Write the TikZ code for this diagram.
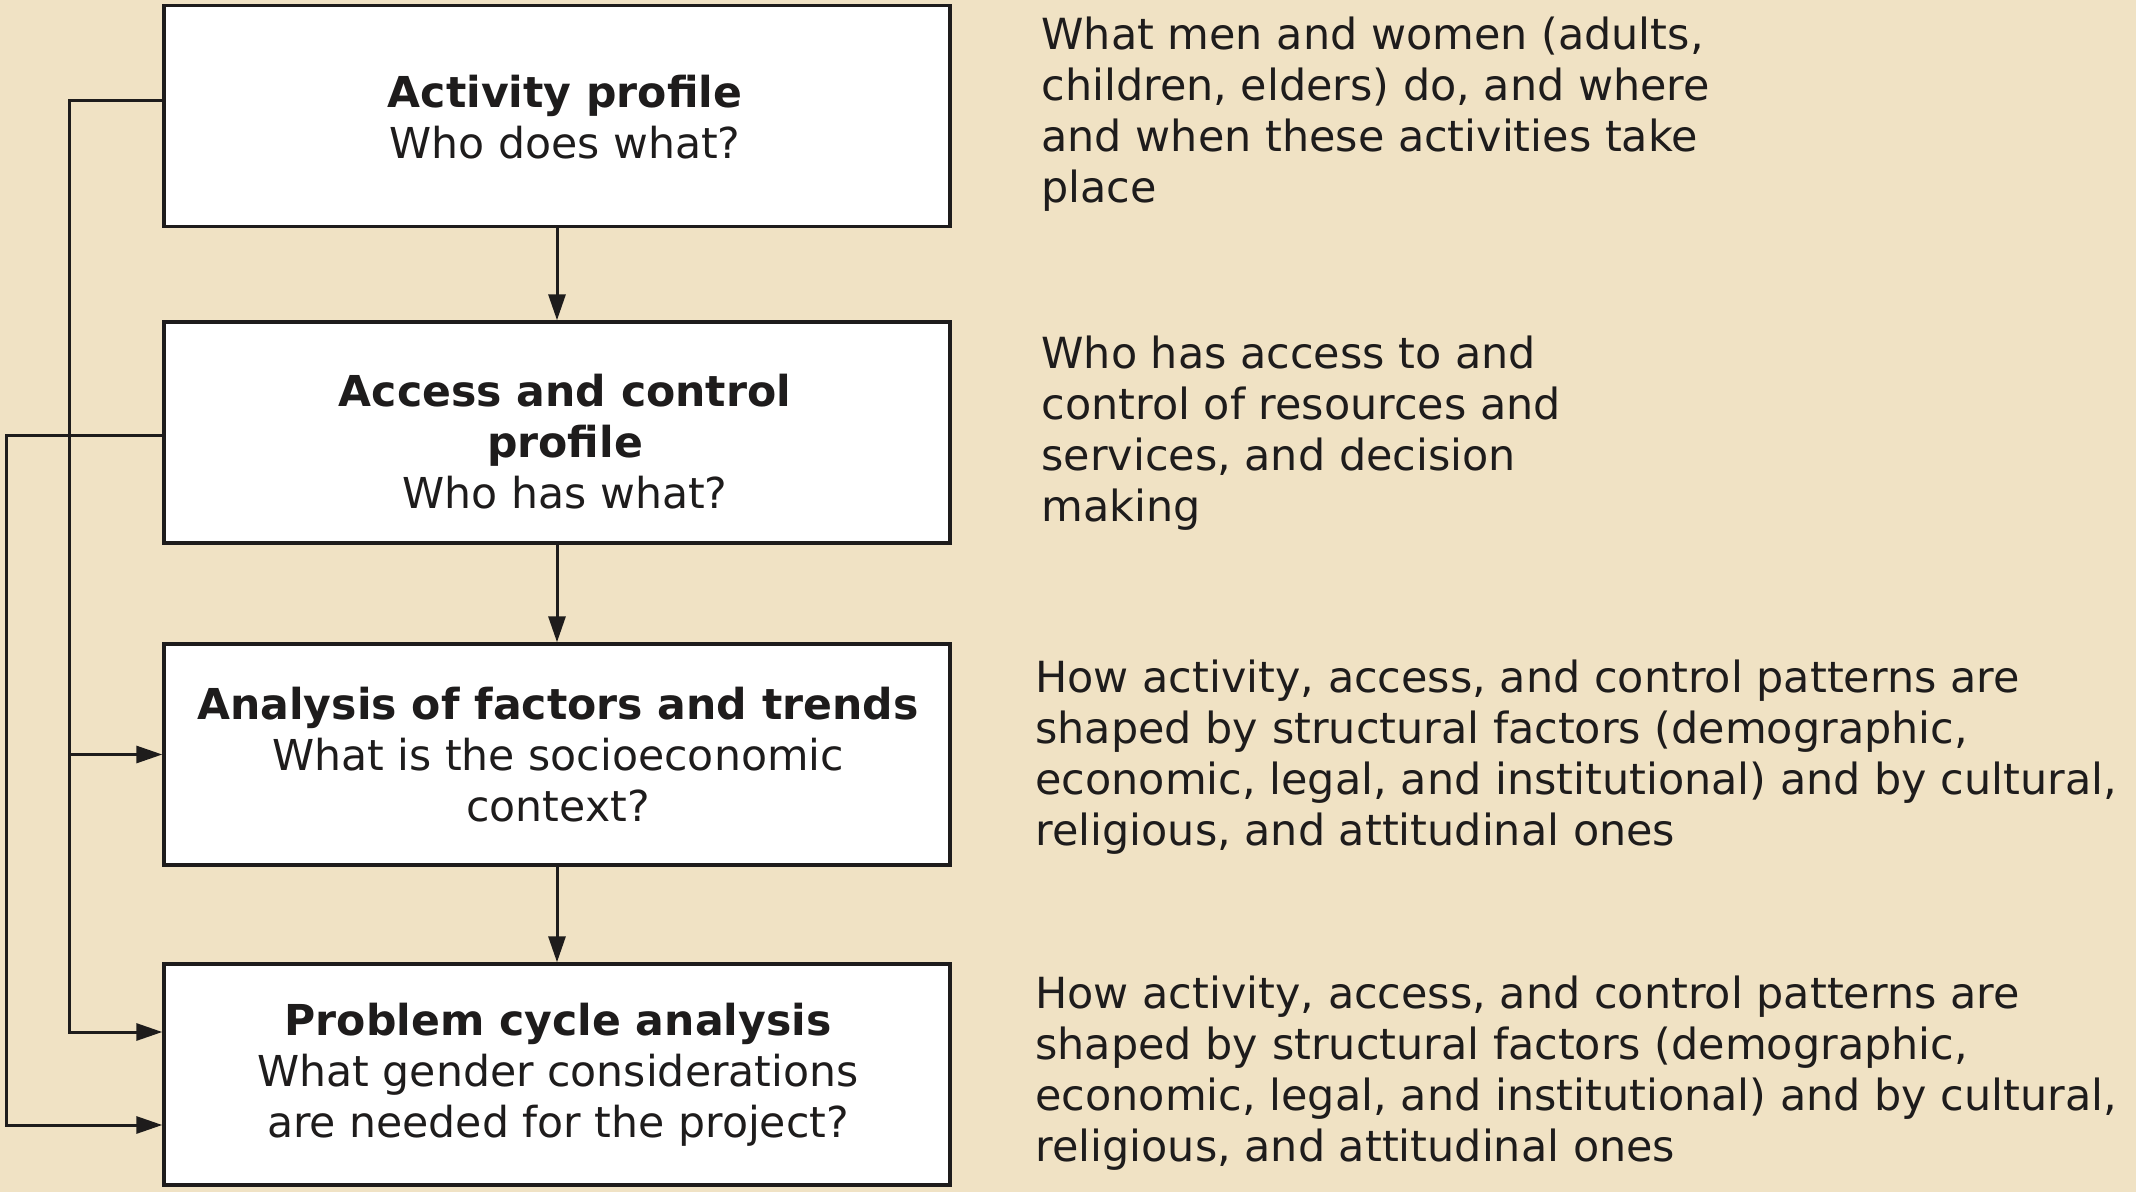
\documentclass[tikz,border=0pt]{standalone}
\usepackage{fontspec}
\setmainfont{DejaVu Sans}
\usetikzlibrary{arrows.meta}
\definecolor{bgtan}{RGB}{240,226,196}
\definecolor{ink}{RGB}{30,28,28}
\begin{document}
\begin{tikzpicture}[x=0.5pt,y=-0.5pt,
  box/.style={draw=ink, fill=white, line width=1.7pt, minimum width=393pt,
    minimum height=110.5pt, inner sep=0pt},
  boxtext/.style={inner sep=0pt, align=center, text=ink,
    font=\fontsize{21.3}{25.6}\selectfont},
  note/.style={anchor=west, align=left, inner sep=0pt, text=ink,
    font=\fontsize{21.45}{25.6}\selectfont},
  conn/.style={draw=ink, line width=1.5pt},
  tip/.style={-{Triangle[length=13pt,width=8.5pt]}}]
\fill[bgtan] (0,0) rectangle (2136,1192);
\useasboundingbox (0,0) rectangle (2136,1192);

\node[box] (b1) at (557,116) {};
\node[box] (b2) at (557,432.5) {};
\node[box] (b3) at (557,754.5) {};
\node[box] (b4) at (557,1074.5) {};

\node[boxtext] (b1t) at ([xshift=4pt,yshift=-0.5pt]b1.center) {\textbf{Activity profile}\\Who does what?};
\node[boxtext] (b2t) at ([xshift=4pt,yshift=-4.5pt]b2.center) {\textbf{Access and control}\\\textbf{profile}\\Who has what?};
\node[boxtext] (b3t) at ([xshift=0.5pt]b3.center) {\textbf{Analysis of factors and trends}\\What is the socioeconomic\\context?};
\node[boxtext] (b4t) at ([xshift=0.5pt]b4.center) {\textbf{Problem cycle analysis}\\What gender considerations\\are needed for the project?};

\node[note] (t1) at (1041,114) {What men and women (adults,\\children, elders) do, and where\\and when these activities take\\place};
\node[note] (t2) at (1041,433) {Who has access to and\\control of resources and\\services, and decision\\making};
\node[note] (t3) at (1035,757) {How activity, access, and control patterns are\\shaped by structural factors (demographic,\\economic, legal, and institutional) and by cultural,\\religious, and attitudinal ones};
\node[note] (t4) at (1035,1073) {How activity, access, and control patterns are\\shaped by structural factors (demographic,\\economic, legal, and institutional) and by cultural,\\religious, and attitudinal ones};

\draw[conn,tip] (b1) -- (b2);
\draw[conn,tip] (b2) -- (b3);
\draw[conn,tip] (b3) -- (b4);

\coordinate (L1) at (69,0);
\coordinate (L2) at (6,0);
\coordinate (p1) at ([yshift=7.5pt]b1.west);
\coordinate (p2) at ([yshift=-1.75pt]b2.west);
\coordinate (p4a) at ([yshift=21.25pt]b4.west);
\coordinate (p4b) at ([yshift=-25.25pt]b4.west);

\draw[conn,tip] (p1) -| (L1 |- p4a) -- (p4a);
\draw[conn,tip] (L1 |- b3.west) -- (b3.west);
\draw[conn,tip] (p2) -| (L2 |- p4b) -- (p4b);
\end{tikzpicture}
\end{document}
